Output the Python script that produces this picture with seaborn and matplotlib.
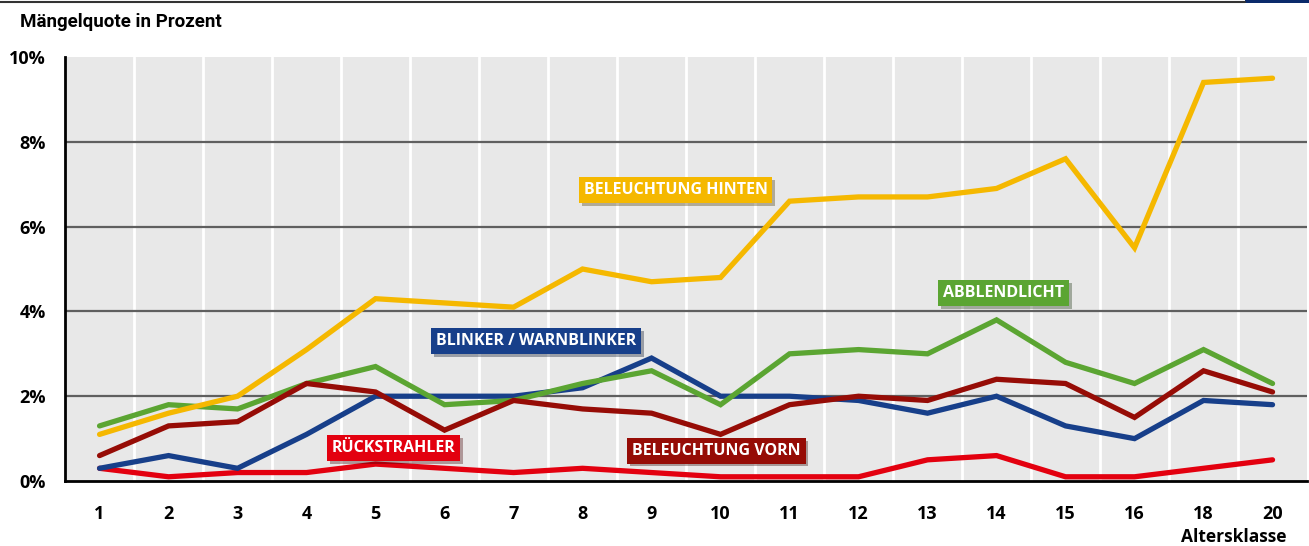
import pandas as pd
import numpy as np
import matplotlib.pyplot as plt
import matplotlib.patheffects as pe
from matplotlib.lines import Line2D
from matplotlib.patches import Rectangle
import seaborn as sns

# data (Mängelquote in %)
altersklasse = ["1", "2", "3", "4", "5", "6", "7", "8", "9", "10",
                "11", "12", "13", "14", "15", "16", "18", "20"]
beleuchtung_hinten = [1.1, 1.6, 2.0, 3.1, 4.3, 4.2, 4.1, 5.0, 4.7, 4.8,
                      6.6, 6.7, 6.7, 6.9, 7.6, 5.5, 9.4, 9.5]
abblendlicht = [1.3, 1.8, 1.7, 2.3, 2.7, 1.8, 1.9, 2.3, 2.6, 1.8,
                3.0, 3.1, 3.0, 3.8, 2.8, 2.3, 3.1, 2.3]
blinker = [0.3, 0.6, 0.3, 1.1, 2.0, 2.0, 2.0, 2.2, 2.9, 2.0,
           2.0, 1.9, 1.6, 2.0, 1.3, 1.0, 1.9, 1.8]
beleuchtung_vorn = [0.6, 1.3, 1.4, 2.3, 2.1, 1.2, 1.9, 1.7, 1.6, 1.1,
                    1.8, 2.0, 1.9, 2.4, 2.3, 1.5, 2.6, 2.1]
rueckstrahler = [0.3, 0.1, 0.2, 0.2, 0.4, 0.3, 0.2, 0.3, 0.2, 0.1,
                 0.1, 0.1, 0.5, 0.6, 0.1, 0.1, 0.3, 0.5]

series = {
    "BELEUCHTUNG HINTEN": beleuchtung_hinten,
    "ABBLENDLICHT": abblendlicht,
    "BLINKER / WARNBLINKER": blinker,
    "BELEUCHTUNG VORN": beleuchtung_vorn,
    "RÜCKSTRAHLER": rueckstrahler,
}
colors = {
    "BELEUCHTUNG HINTEN": "#F5B800",
    "ABBLENDLICHT": "#5BA532",
    "BLINKER / WARNBLINKER": "#173F8A",
    "BELEUCHTUNG VORN": "#960C06",
    "RÜCKSTRAHLER": "#E3000F",
}
# label box centres (category index, value)
label_pos = {
    "BELEUCHTUNG HINTEN": (8.35, 6.86),
    "ABBLENDLICHT": (13.1, 4.43),
    "BLINKER / WARNBLINKER": (6.33, 3.30),
    "RÜCKSTRAHLER": (4.26, 0.78),
    "BELEUCHTUNG VORN": (8.94, 0.71),
}

rows = []
for name, vals in series.items():
    for i, (k, v) in enumerate(zip(altersklasse, vals)):
        rows.append({"pos": i, "klasse": k, "wert": v, "serie": name})
df = pd.DataFrame(rows)

sns.set_style("white")
plt.rcParams["font.family"] = ["Open Sans", "DejaVu Sans"]
plt.rcParams["text.color"] = "black"
plt.rcParams["xtick.color"] = "black"
plt.rcParams["ytick.color"] = "black"

fig = plt.figure(figsize=(13.09, 5.46), dpi=100)
ax = fig.add_axes([0.0497, 0.119, 0.9488, 0.7766])
ax.set_facecolor("#E8E8E8")

# draw order: back to front as in the picture
order = ["RÜCKSTRAHLER", "BLINKER / WARNBLINKER", "ABBLENDLICHT",
         "BELEUCHTUNG HINTEN", "BELEUCHTUNG VORN"]
for name in order:
    sns.lineplot(data=df[df["serie"] == name], x="pos", y="wert",
                 color=colors[name], linewidth=3.8, ax=ax,
                 solid_capstyle="round", solid_joinstyle="miter",
                 legend=False, zorder=3)

ax.set_xlim(-0.5, len(altersklasse) - 0.5)
ax.set_ylim(0, 10)

# white separators between age classes
for b in np.arange(0.5, len(altersklasse) - 0.5, 1):
    ax.axvline(b, color="white", lw=2, zorder=1)
for y in [2, 4, 6, 8]:
    ax.axhline(y, color="#5F5F5F", lw=1.6, zorder=2)

ax.set_xticks(range(len(altersklasse)))
ax.set_xticklabels(altersklasse, fontsize=13, fontweight="bold")
ax.set_yticks([0, 2, 4, 6, 8, 10])
ax.set_yticklabels(["0%", "2%", "4%", "6%", "8%", "10%"],
                   fontsize=13, fontweight="bold")
ax.tick_params(axis="x", length=0, pad=17)
ax.tick_params(axis="y", length=0, pad=14)
ax.set_xlabel("")
ax.set_ylabel("")

for s in ["top", "right"]:
    ax.spines[s].set_visible(False)
ax.spines["left"].set_color("black")
ax.spines["left"].set_linewidth(2)
ax.spines["bottom"].set_color("black")
ax.spines["bottom"].set_linewidth(2)

for name, (lx, ly) in label_pos.items():
    t = ax.text(lx, ly, name, ha="center", va="center", color="white",
                fontsize=11.5, fontweight="bold", zorder=5,
                bbox=dict(boxstyle="square,pad=0.3", fc=colors[name],
                          ec="none"))
    t.get_bbox_patch().set_path_effects(
        [pe.SimplePatchShadow(offset=(2, -2), alpha=0.35), pe.Normal()])

fig.text(0.015, 0.96, "Mängelquote in Prozent", fontsize=13.5,
         fontweight="bold", va="center", ha="left",
         family=["Roboto", "DejaVu Sans"])
fig.text(0.983, 0.016, "Altersklasse", fontsize=12.5, fontweight="bold",
         va="center", ha="right")

# thin rule and cut-off logo bar at the top of the figure
fig.add_artist(Line2D([0, 0.951], [0.997, 0.997], color="#333333", lw=1.5))
fig.add_artist(Rectangle((0.951, 0.994), 0.049, 0.006,
                         transform=fig.transFigure, fc="#0A2A6B", ec="none"))

fig.savefig("out.png", dpi=100)
